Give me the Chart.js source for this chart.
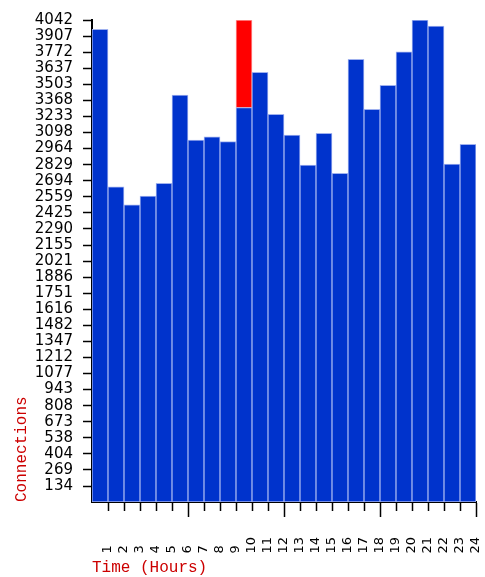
<!DOCTYPE html>
<html>
<head>
<meta charset="utf-8">
<script src="https://cdn.jsdelivr.net/npm/chart.js@4/dist/chart.umd.min.js"></script>
<style>
  html, body { margin: 0; padding: 0; background: #fff; }
  #wrap { width: 485px; height: 577px; }
</style>
</head>
<body>
<div id="wrap"><canvas id="connChart" width="485" height="577"></canvas></div>
<script>
// saatlik bağlantı sayıları (1..24)
const hourLabels = ['1','2','3','4','5','6','7','8','9','10','11','12','13','14','15','16','17','18','19','20','21','22','23','24'];
const connections = [3964, 2644, 2491, 2566, 2673, 3413, 3036, 3063, 3022, 3307, 3603, 3251, 3077, 2826, 3092, 2757, 3712, 3293, 3494, 3776, 4042, 3992, 2834, 3000];
// 10. saatteki kırmızı tepe kısmı
const peakExtra = [null, null, null, null, null, null, null, null, null, 735, null, null, null, null, null, null, null, null, null, null, null, null, null, null];
const yTicks = [134, 269, 404, 538, 673, 808, 943, 1077, 1212, 1347, 1482, 1616, 1751, 1886, 2021, 2155, 2290, 2425, 2559, 2694, 2829, 2964, 3098, 3233, 3368, 3503, 3637, 3772, 3907, 4042];
const yMax = 4042;

function toPoints(arr) {
  return arr.map(function(v, i) { return { x: i + 0.5, y: v }; });
}

const barStyle = {
  barPercentage: 1,
  categoryPercentage: 1,
  borderWidth: 1,
  borderSkipped: false
};

new Chart(document.getElementById('connChart'), {
  type: 'bar',
  data: {
    datasets: [
      Object.assign({
        data: toPoints(connections),
        backgroundColor: '#0033cc',
        borderColor: '#9fb1ef'
      }, barStyle),
      Object.assign({
        data: toPoints(peakExtra),
        backgroundColor: '#ff0000',
        borderColor: '#ff9a9a'
      }, barStyle)
    ]
  },
  options: {
    responsive: false,
    animation: false,
    layout: { padding: { left: 0, right: 9, top: 20, bottom: 0 } },
    plugins: {
      legend: { display: false },
      tooltip: { enabled: false }
    },
    scales: {
      x: {
        type: 'linear',
        stacked: true,
        offset: false,
        min: 0,
        max: 24,
        afterFit: function(scale) {
          scale.height = 75;
          // döndürülmüş etiketler için ek sağ/sol boşluk istemiyoruz
          scale.paddingRight = 0;
          scale.paddingLeft = 0;
        },
        border: { display: true, color: '#000', width: 2 },
        grid: {
          offset: false,
          drawOnChartArea: false,
          tickLength: 15,
          tickWidth: 1.5,
          tickColor: function(ctx) { return ctx.tick && ctx.tick.value === 0 ? 'rgba(0,0,0,0)' : '#000'; },
          // her 6 saatte bir uzun çizgi
          tickBorderDash: function(ctx) { return ctx.tick && ctx.tick.value % 6 === 0 ? [] : [8, 30]; }
        },
        ticks: {
          stepSize: 1,
          autoSkip: false,
          minRotation: 90,
          maxRotation: 90,
          padding: 20,
          color: '#000',
          font: { family: 'DejaVu Sans', size: 13 },
          callback: function(value) {
            if (value === 0) return '';
            const lbl = hourLabels[value - 1];
            return lbl.length === 1 ? lbl + '\u2007' : lbl;
          }
        },
        title: {
          display: true,
          text: 'Time (Hours)',
          align: 'start',
          color: '#cc0000',
          font: { family: 'Liberation Mono', size: 16 },
          padding: { top: 0, bottom: 0 }
        }
      },
      y: {
        stacked: true,
        min: 0,
        max: yMax,
        afterFit: function(scale) { scale.width = 92; },
        afterBuildTicks: function(scale) {
          scale.ticks = yTicks.map(function(v) { return { value: v }; });
        },
        border: { display: true, color: '#000', width: 2 },
        grid: {
          drawOnChartArea: false,
          tickLength: 9,
          tickWidth: 1.5,
          tickColor: '#000'
        },
        ticks: {
          autoSkip: false,
          padding: 10,
          color: '#000',
          font: { family: 'DejaVu Sans', size: 15 },
          callback: function(value) { return String(value); }
        },
        title: {
          display: true,
          text: 'Connections',
          align: 'start',
          color: '#cc0000',
          font: { family: 'Liberation Mono', size: 16 },
          padding: { top: 12, bottom: 0 }
        }
      }
    }
  }
});
</script>
</body>
</html>
